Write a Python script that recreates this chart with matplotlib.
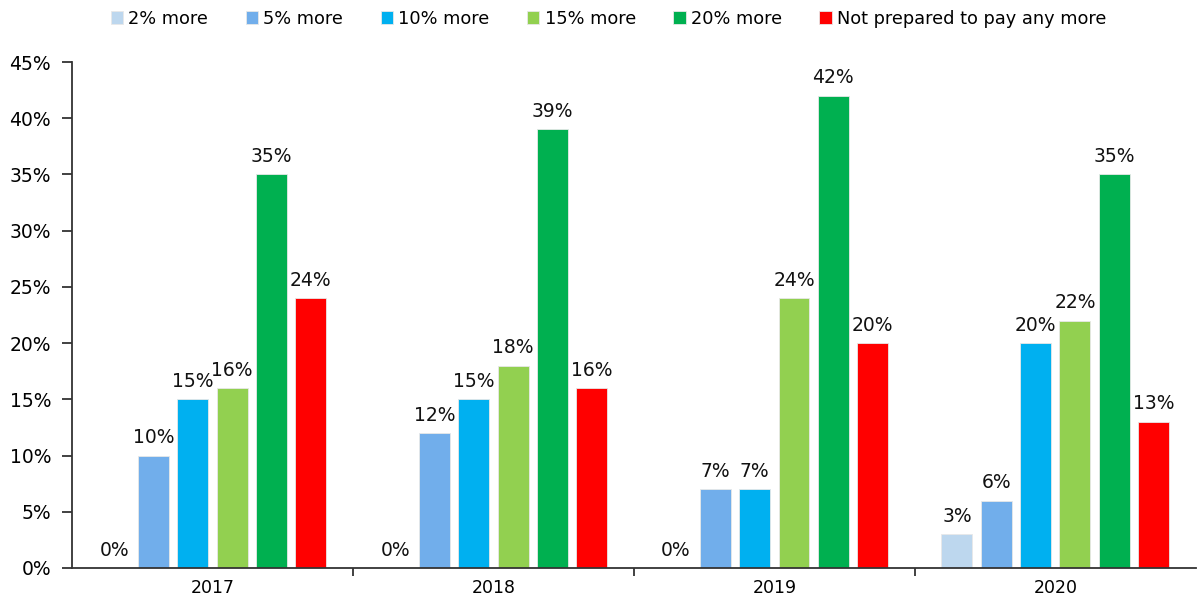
import numpy as np
import matplotlib.pyplot as plt
from matplotlib.ticker import FixedLocator

years = ['2017', '2018', '2019', '2020']
series = ['2% more', '5% more', '10% more', '15% more', '20% more', 'Not prepared to pay any more']
more_2 = [0, 0, 0, 3]
more_5 = [10, 12, 7, 6]
more_10 = [15, 15, 7, 20]
more_15 = [16, 18, 24, 22]
more_20 = [35, 39, 42, 35]
no_more = [24, 16, 20, 13]
colors = ['#BDD7EE', '#71AEEB', '#00B0F0', '#92D050', '#00B050', '#FF0000']

values = [more_2, more_5, more_10, more_15, more_20, no_more]

plt.rcParams['font.family'] = ['DejaVu Sans']
fig = plt.figure(figsize=(11.98, 6.08), dpi=100)
ax = fig.add_axes([0.0601, 0.0658, 0.938, 0.8322])

x = np.arange(len(years))
step = 0.14
width = 0.11
handles = []
for i, (vals, col, name) in enumerate(zip(values, colors, series)):
    pos = x + (i - 2.5) * step
    b = ax.bar(pos, vals, width=width, color=col, edgecolor='#e8e8e8', linewidth=0.6, label=name)
    handles.append(b)
    for p, v in zip(pos, vals):
        ax.text(p, v + 0.75, f'{v}%', ha='center', va='bottom', fontsize=13.5, color='#111111')

ax.set_xlim(-0.5, len(years) - 0.5)
ax.set_ylim(0, 45)
ax.set_yticks(np.arange(0, 46, 5))
ax.set_yticklabels([f'{t}%' for t in range(0, 46, 5)])
ax.set_xticks(x)
ax.set_xticklabels(years)
ax.xaxis.set_minor_locator(FixedLocator([0.5, 1.5, 2.5]))
ax.tick_params(axis='x', which='major', length=0, labelsize=12.5, pad=8)
ax.tick_params(axis='x', which='minor', length=6, width=1.3, color='#333333')
ax.tick_params(axis='y', length=7, width=1.3, color='#333333', labelsize=13.5, pad=8)

for s in ['top', 'right']:
    ax.spines[s].set_visible(False)
for s in ['left', 'bottom']:
    ax.spines[s].set_color('#333333')
    ax.spines[s].set_linewidth(1.3)

fig.legend(handles=handles, labels=series, loc='upper center', bbox_to_anchor=(0.508, 1.01),
           ncol=6, frameon=False, fontsize=12.8, handlelength=0.7, handleheight=0.7,
           handletextpad=0.3, columnspacing=2.1)

fig.savefig('out.png', dpi=100)
